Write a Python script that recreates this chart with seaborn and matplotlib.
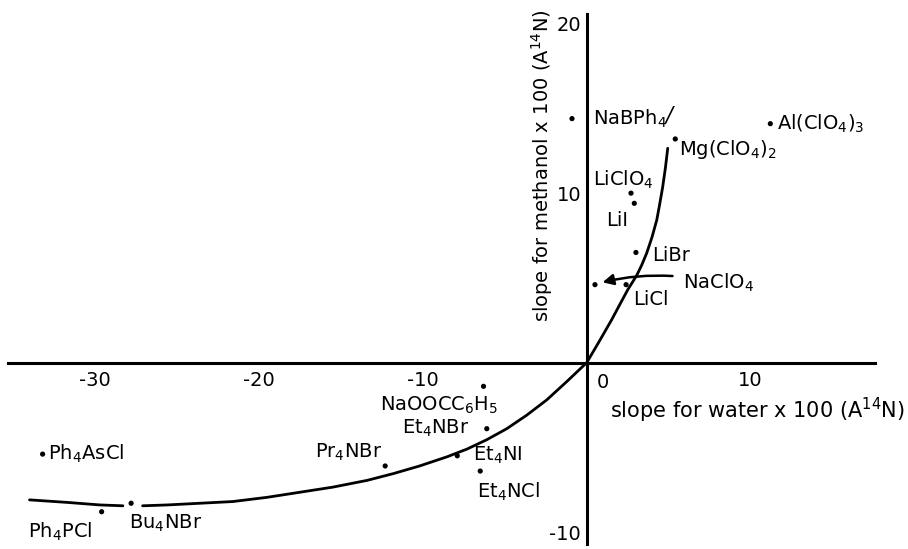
import matplotlib
matplotlib.use("Agg")
import matplotlib.pyplot as plt
import seaborn as sns

# salts: slope for water (x) vs slope for methanol (y), both x 100
salts = ["NaBPh4", "Mg(ClO4)2", "Al(ClO4)3", "LiClO4", "LiI", "LiBr", "NaClO4", "LiCl",
         "NaOOCC6H5", "Et4NBr", "Et4NI", "Et4NCl", "Pr4NBr", "Ph4AsCl", "Ph4PCl", "Bu4NBr"]
water = [-0.9, 5.4, 11.2, 2.7, 2.9, 3.0, 0.5, 2.4,
         -6.3, -6.1, -7.9, -6.5, -12.3, -33.2, -29.6, -27.8]
methanol = [14.4, 13.2, 14.1, 10.0, 9.4, 6.5, 4.6, 4.6,
            -1.4, -3.9, -5.5, -6.4, -6.1, -5.4, -8.8, -8.3]

# label text (mathtext) and where it sits
labels = ["NaBPh$_4$", "Mg(ClO$_4$)$_2$", "Al(ClO$_4$)$_3$", "LiClO$_4$", "LiI", "LiBr",
          "NaClO$_4$", "LiCl", "NaOOCC$_6$H$_5$", "Et$_4$NBr", "Et$_4$NI", "Et$_4$NCl",
          "Pr$_4$NBr", "Ph$_4$AsCl", "Ph$_4$PCl", "Bu$_4$NBr"]
label_x = [0.37, 5.6, 11.6, 0.37, 1.2, 4.0, 5.9, 2.8,
           -12.6, -11.3, -6.95, -6.7, -16.6, -32.9, -34.1, -27.9]
label_y = [14.4, 12.6, 14.1, 10.8, 8.4, 6.3, 4.7, 3.7,
           -2.5, -3.9, -5.5, -7.6, -5.3, -5.4, -10.0, -9.5]

# hand-drawn trend curve
curve_x = [4.94, 4.8, 4.63, 4.45, 4.27, 3.98, 3.66, 3.35, 3.05, 2.5, 2.0, 1.52, 0.79, 0.0,
           -1.22, -2.44, -3.66, -4.88, -6.1, -7.3, -8.5, -10.2, -11.8, -13.4, -15.5,
           -17.5, -19.5, -21.6, -23.6, -25.6, -27.1]
curve_y = [12.65, 11.5, 10.35, 9.35, 8.41, 7.4, 6.47, 5.75, 5.15, 4.3, 3.4, 2.53, 1.3, 0.0,
           -1.12, -2.2, -3.1, -3.9, -4.55, -5.1, -5.55, -6.1, -6.55, -6.95, -7.35,
           -7.65, -7.95, -8.2, -8.3, -8.4, -8.45]
tail_x = [-28.3, -29.7, -31.7, -34.0]
tail_y = [-8.45, -8.4, -8.25, -8.1]

sns.set_style("white")
plt.rcParams["font.family"] = ["DejaVu Sans"]
plt.rcParams["mathtext.default"] = "regular"
plt.rcParams["text.color"] = "black"

fig = plt.figure(figsize=(9.08, 5.49), dpi=100)
ax = fig.add_axes([0, 0, 1, 1])

sns.lineplot(x=curve_x, y=curve_y, sort=False, color="black", lw=2, ax=ax)
sns.lineplot(x=tail_x, y=tail_y, sort=False, color="black", lw=2, ax=ax)
sns.scatterplot(x=water, y=methanol, color="black", s=14, edgecolor="none", ax=ax)

for t, tx, ty in zip(labels, label_x, label_y):
    ax.text(tx, ty, t, fontsize=14, ha="left", va="center", color="black")
ax.text(5.0, 14.6, "/", fontsize=15, ha="center", va="center", style="italic")

# NaClO4 arrow
ax.annotate("", xy=(0.8, 4.7), xytext=(5.4, 5.1),
            arrowprops=dict(arrowstyle="-|>", color="black", lw=1.8,
                            connectionstyle="arc3,rad=0.08", mutation_scale=16))

ax.set_xlim(-35.8, 19.6)
ax.set_ylim(-11.0, 21.4)
for s in ["top", "right"]:
    ax.spines[s].set_visible(False)
ax.spines["left"].set_position(("data", 0))
ax.spines["bottom"].set_position(("data", 0))
ax.spines["left"].set_bounds(-10.7, 20.6)
ax.spines["bottom"].set_bounds(-35.3, 17.6)
for s in ["left", "bottom"]:
    ax.spines[s].set_linewidth(2.2)
    ax.spines[s].set_color("black")

ax.set_xticks([-30, -20, -10, 10])
ax.set_yticks([-10, 10, 20])
ax.set_xticklabels(["-30", "-20", "-10", "10"])
ax.set_yticklabels(["-10", "10", "20"])
ax.tick_params(axis="both", direction="in", length=8, width=1.8, labelsize=14,
               colors="black", pad=4)
ax.tick_params(axis="x", pad=6)
ax.text(0.6, -1.2, "0", fontsize=14, ha="left", va="center")

ax.text(1.4, -2.8, "slope for water x 100 (A$^{14}$N)", fontsize=15,
        ha="left", va="center")
ax.text(-2.7, 11.6, "slope for methanol x 100 (A$^{14}$N)", fontsize=14,
        ha="center", va="center", rotation=90)

fig.savefig("out.png", dpi=100, facecolor="white")
